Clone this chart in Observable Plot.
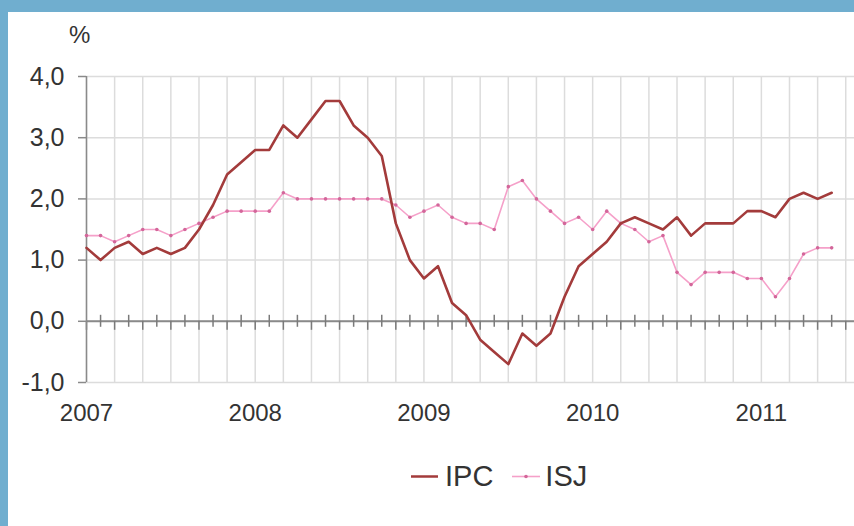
<!DOCTYPE html>
<html>
<head>
<meta charset="utf-8">
<script src="https://cdn.jsdelivr.net/npm/d3@7"></script>
<script src="https://cdn.jsdelivr.net/npm/@observablehq/plot@0.6"></script>
<style>
  html, body { margin: 0; padding: 0; background: #70aecf; }
  #frame { position: relative; width: 854px; height: 526px; background: #70aecf; overflow: hidden; }
  #panel { position: absolute; left: 8px; top: 12px; width: 846px; height: 514px; background: #fff;
           font-family: "Liberation Sans", Arial, sans-serif; color: #333; }
  #chart { position: absolute; left: 0; top: 0; }
  #pct { position: absolute; left: 61px; top: 10.7px; font-size: 24px; line-height: 24px; }
  #legend { position: absolute; left: 403px; top: 449.5px; height: 29px; font-size: 29px; line-height: 29px; white-space: nowrap; }
  #legend span, #legend svg { display: inline-block; vertical-align: top; }
</style>
</head>
<body>
<div id="frame">
  <div id="panel">
    <div id="chart"></div>
    <div id="pct">%</div>
    <div id="legend"></div>
  </div>
</div>
<script>
// Month index 0 = January 2007 ... 53 = June 2011
const startYear = 2007;
const ipc = [1.2,1.0,1.2,1.3,1.1,1.2,1.1,1.2,1.5,1.9,
             2.4,2.6,2.8,2.8,3.2,3.0,3.3,3.6,3.6,3.2,
             3.0,2.7,1.6,1.0,0.7,0.9,0.3,0.1,-0.3,-0.5,
             -0.7,-0.2,-0.4,-0.2,0.4,0.9,1.1,1.3,1.6,1.7,
             1.6,1.5,1.7,1.4,1.6,1.6,1.6,1.8,1.8,1.7,
             2.0,2.1,2.0,2.1];
const isj = [1.4,1.4,1.3,1.4,1.5,1.5,1.4,1.5,1.6,1.7,
             1.8,1.8,1.8,1.8,2.1,2.0,2.0,2.0,2.0,2.0,
             2.0,2.0,1.9,1.7,1.8,1.9,1.7,1.6,1.6,1.5,
             2.2,2.3,2.0,1.8,1.6,1.7,1.5,1.8,1.6,1.5,
             1.3,1.4,0.8,0.6,0.8,0.8,0.8,0.7,0.7,0.4,
             0.7,1.1,1.2,1.2];
const seriesNames = ["IPC", "ISJ"];
const yTicks = [-1, 0, 1, 2, 3, 4];
const yearTicks = [0, 12, 24, 36, 48];
const yearLabels = ["2007", "2008", "2009", "2010", "2011"];
const gridMonths = d3.range(0, 55, 2);
const minorMonths = d3.range(1, 55, 2);

const ipcData = ipc.map((v, m) => ({m, v}));
const isjData = isj.map((v, m) => ({m, v}));

const C_IPC = "#a33b3b";
const C_ISJ = "#f5a0c9";
const C_ISJ_DOT = "#d3669a";
const C_GRID = "#dcdcdc";
const C_AXIS = "#8a8a8a";

const fmt = d => d3.format(".1f")(d).replace(".", ",").replace("\u2212", "-");

const chart = Plot.plot({
  width: 846,
  height: 420,
  marginLeft: 78,
  marginRight: 0,
  marginTop: 64,
  marginBottom: 50,
  x: {domain: [0, 768 / 14.06], axis: null},
  y: {domain: [-1, 4], axis: null},
  style: {background: "transparent", fontFamily: "'Liberation Sans', Arial, sans-serif", overflow: "visible"},
  marks: [
    Plot.ruleY(yTicks, {stroke: C_GRID, strokeWidth: 1.5}),
    Plot.ruleX(gridMonths, {y1: -1, y2: 4, stroke: C_GRID, strokeWidth: 1.5}),
    Plot.ruleY([0], {stroke: C_AXIS, strokeWidth: 2}),
    Plot.ruleX(minorMonths, {y1: 0, y2: 0, insetTop: -6, insetBottom: -6, stroke: "#7a7a7a", strokeWidth: 1.5}),
    Plot.ruleX(gridMonths, {y1: 0, y2: 0, insetTop: 0, insetBottom: -9, stroke: "#7a7a7a", strokeWidth: 1.5}),
    Plot.ruleX([0], {stroke: C_AXIS, strokeWidth: 1.5}),
    Plot.axisY({ticks: yTicks, tickSize: 8, tickPadding: 14, tickFormat: fmt,
                fontSize: 25, stroke: C_AXIS, fill: "#333", strokeWidth: 1.5, label: null}),
    Plot.axisX({ticks: yearTicks, tickSize: 0, tickPadding: 21,
                tickFormat: d => yearLabels[yearTicks.indexOf(d)],
                fontSize: 24, fill: "#333", label: null}),
    Plot.line(isjData, {x: "m", y: "v", stroke: C_ISJ, strokeWidth: 1.6}),
    Plot.dot(isjData, {x: "m", y: "v", r: 1.8, fill: C_ISJ_DOT}),
    Plot.line(ipcData, {x: "m", y: "v", stroke: C_IPC, strokeWidth: 2.6})
  ]
});
document.getElementById("chart").appendChild(chart);

// legend
const legend = document.getElementById("legend");
legend.innerHTML =
  `<svg width="27" height="29"><line x1="0" x2="27" y1="14.5" y2="14.5" stroke="${C_IPC}" stroke-width="2.5"/></svg>` +
  `<span style="margin-left:7px">${seriesNames[0]}</span>` +
  `<svg width="28" height="29" style="margin-left:19px"><line x1="0" x2="28" y1="14.5" y2="14.5" stroke="${C_ISJ}" stroke-width="1.6"/><circle cx="14" cy="14.5" r="1.8" fill="${C_ISJ_DOT}"/></svg>` +
  `<span style="margin-left:5px">${seriesNames[1]}</span>`;
</script>
</body>
</html>
